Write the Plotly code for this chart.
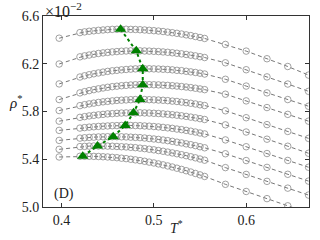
import plotly.graph_objects as go

T = [0.3975, 0.420, 0.425, 0.430, 0.435, 0.440, 0.445, 0.450, 0.455, 0.460,
     0.465, 0.470, 0.475, 0.480, 0.485, 0.490, 0.495, 0.500, 0.505, 0.510,
     0.515, 0.520, 0.525, 0.530, 0.535, 0.540, 0.545, 0.550, 0.555,
     0.5775, 0.600, 0.6225, 0.645, 0.6675]

rho1 = [6.414, 6.461, 6.467, 6.472, 6.476, 6.480, 6.483, 6.486, 6.488, 6.489, 6.489, 6.489, 6.488, 6.487, 6.485, 6.483, 6.480, 6.477, 6.474, 6.470, 6.465, 6.460, 6.455, 6.449, 6.442, 6.436, 6.428, 6.420, 6.412, 6.362, 6.306, 6.242, 6.177, 6.105]
rho2 = [6.198, 6.258, 6.266, 6.273, 6.280, 6.286, 6.291, 6.295, 6.299, 6.302, 6.305, 6.307, 6.308, 6.308, 6.308, 6.307, 6.306, 6.304, 6.302, 6.299, 6.296, 6.292, 6.288, 6.283, 6.278, 6.272, 6.266, 6.259, 6.252, 6.208, 6.150, 6.090, 6.030, 5.969]
rho3 = [6.031, 6.089, 6.099, 6.108, 6.116, 6.123, 6.130, 6.136, 6.141, 6.145, 6.149, 6.152, 6.155, 6.157, 6.158, 6.158, 6.158, 6.157, 6.156, 6.154, 6.152, 6.149, 6.145, 6.142, 6.137, 6.132, 6.127, 6.121, 6.114, 6.070, 6.013, 5.956, 5.900, 5.844]
rho4 = [5.900, 5.956, 5.966, 5.975, 5.983, 5.990, 5.997, 6.003, 6.008, 6.012, 6.016, 6.019, 6.022, 6.024, 6.025, 6.025, 6.025, 6.024, 6.023, 6.021, 6.019, 6.016, 6.013, 6.009, 6.005, 6.000, 5.995, 5.989, 5.983, 5.945, 5.889, 5.833, 5.776, 5.719]
rho5 = [5.808, 5.849, 5.857, 5.864, 5.870, 5.876, 5.881, 5.885, 5.889, 5.893, 5.895, 5.897, 5.899, 5.900, 5.900, 5.900, 5.899, 5.898, 5.896, 5.894, 5.891, 5.887, 5.884, 5.879, 5.874, 5.869, 5.863, 5.856, 5.850, 5.806, 5.748, 5.690, 5.633, 5.575]
rho6 = [5.719, 5.751, 5.757, 5.763, 5.768, 5.772, 5.776, 5.780, 5.782, 5.785, 5.787, 5.788, 5.789, 5.789, 5.789, 5.788, 5.787, 5.785, 5.783, 5.780, 5.777, 5.773, 5.769, 5.764, 5.759, 5.753, 5.747, 5.740, 5.733, 5.688, 5.628, 5.568, 5.509, 5.450]
rho7 = [5.642, 5.661, 5.665, 5.669, 5.672, 5.675, 5.677, 5.679, 5.681, 5.682, 5.683, 5.683, 5.683, 5.682, 5.681, 5.679, 5.677, 5.674, 5.671, 5.667, 5.663, 5.659, 5.653, 5.648, 5.642, 5.635, 5.628, 5.620, 5.612, 5.562, 5.505, 5.448, 5.390, 5.333]
rho8 = [5.558, 5.577, 5.580, 5.583, 5.585, 5.587, 5.588, 5.589, 5.589, 5.589, 5.588, 5.587, 5.585, 5.583, 5.581, 5.578, 5.574, 5.570, 5.566, 5.561, 5.556, 5.550, 5.543, 5.537, 5.529, 5.522, 5.514, 5.505, 5.496, 5.446, 5.389, 5.332, 5.274, 5.217]
rho9 = [5.483, 5.506, 5.508, 5.510, 5.511, 5.511, 5.511, 5.510, 5.509, 5.507, 5.505, 5.503, 5.500, 5.497, 5.493, 5.489, 5.484, 5.479, 5.473, 5.467, 5.460, 5.453, 5.446, 5.438, 5.430, 5.421, 5.412, 5.402, 5.392, 5.330, 5.273, 5.215, 5.158, 5.100]
rho10 = [5.419, 5.425, 5.425, 5.425, 5.424, 5.423, 5.421, 5.419, 5.416, 5.413, 5.409, 5.405, 5.400, 5.395, 5.389, 5.383, 5.376, 5.369, 5.361, 5.353, 5.344, 5.335, 5.325, 5.315, 5.304, 5.293, 5.281, 5.269, 5.256, 5.190, 5.130, 5.070, 5.010, 4.950]

T_max = [0.464, 0.481, 0.488, 0.488, 0.485, 0.478, 0.469, 0.456, 0.439, 0.423]
rho_max = [6.489, 6.308, 6.158, 6.025, 5.900, 5.789, 5.683, 5.589, 5.511, 5.425]

x_ticks = [0.4, 0.5, 0.6]
y_ticks = [5.0, 5.4, 5.8, 6.2, 6.6]

curves = [rho1, rho2, rho3, rho4, rho5, rho6, rho7, rho8, rho9, rho10]

FONT = "Liberation Serif"
fig = go.Figure()
for r in curves:
    fig.add_trace(go.Scatter(
        x=T, y=r, mode="lines+markers",
        line=dict(color="#666666", width=0.9, dash="4px,3px"),
        marker=dict(symbol="circle-open", size=6.5, color="#8a8a8a",
                    line=dict(width=0.8, color="#8a8a8a")),
        showlegend=False, cliponaxis=True))

fig.add_trace(go.Scatter(
    x=T_max, y=rho_max, mode="lines+markers",
    line=dict(color="#008000", width=2, dash="dot"),
    marker=dict(symbol="triangle-up", size=10, color="#008000"),
    showlegend=False))

axis_common = dict(showline=True, linecolor="#333333", linewidth=1, mirror="ticks",
                   ticks="inside", ticklen=4, tickcolor="#333333", showgrid=False,
                   zeroline=False, automargin=False,
                   tickfont=dict(family=FONT, size=14, color="#222"))

fig.update_xaxes(range=[0.38, 0.668], tickvals=x_ticks,
                 ticktext=[f"{v:.1f}" for v in x_ticks], **axis_common)
fig.update_yaxes(range=[5.0, 6.6], tickvals=y_ticks,
                 ticktext=[f"{v:.1f}" for v in y_ticks], **axis_common)

fig.update_layout(
    width=320, height=240,
    margin=dict(l=43, r=11, t=16, b=33),
    plot_bgcolor="white", paper_bgcolor="white",
    annotations=[
        dict(text="×10<sup>−2</sup>", xref="paper", yref="paper", x=0.0, y=1.0,
             xanchor="left", yanchor="bottom", showarrow=False, yshift=-6,
             font=dict(family=FONT, size=16, color="#222")),
        dict(text="<i>ρ</i><sup>*</sup>", xref="paper", yref="paper", x=-0.105, y=0.55,
             xanchor="center", yanchor="middle", showarrow=False,
             font=dict(family=FONT, size=15, color="#222")),
        dict(text="<i>T</i><sup>*</sup>", xref="paper", yref="paper", x=0.5, y=-0.045,
             xanchor="center", yanchor="top", showarrow=False,
             font=dict(family=FONT, size=14, color="#222")),
        dict(text="(D)", xref="paper", yref="paper", x=0.035, y=0.015,
             xanchor="left", yanchor="bottom", showarrow=False,
             font=dict(family=FONT, size=14, color="#222")),
    ],
)

fig.write_html("out.html", config={"displayModeBar": False},
               post_script="document.body.style.margin='0';")
